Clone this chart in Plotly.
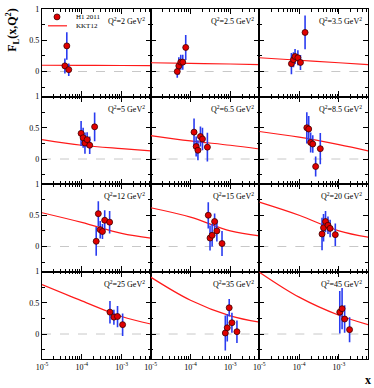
import plotly.graph_objects as go
from plotly.subplots import make_subplots

q2_values = [2, 2.5, 3.5, 5, 6.5, 8.5, 12, 15, 20, 25, 35, 45]

h1_x = [
    [3.76e-5, 4.2e-5, 4.7e-5],
    [4.66e-5, 5.1e-5, 5.7e-5, 6.4e-5, 7.6e-5],
    [6.4e-5, 7.2e-5, 7.9e-5, 9.3e-5, 1.08e-4, 1.41e-4],
    [9.6e-5, 1.08e-4, 1.2e-4, 1.36e-4, 1.58e-4, 2.1e-4],
    [1.23e-4, 1.39e-4, 1.54e-4, 1.78e-4, 2.0e-4, 2.66e-4],
    [1.56e-4, 1.74e-4, 1.95e-4, 2.2e-4, 2.6e-4, 3.4e-4],
    [2.3e-4, 2.6e-4, 2.9e-4, 3.3e-4, 3.76e-4, 5.0e-4],
    [2.8e-4, 3.1e-4, 3.5e-4, 4.04e-4, 4.6e-4, 6.2e-4],
    [3.76e-4, 4.1e-4, 4.6e-4, 5.3e-4, 6.0e-4, 8.1e-4],
    [5.1e-4, 6.4e-4, 7.9e-4, 1.06e-3],
    [7.5e-4, 8.4e-4, 9.4e-4, 1.1e-3, 1.47e-3],
    [1.05e-3, 1.2e-3, 1.39e-3, 1.85e-3],
]
h1_fl = [
    [0.09, 0.41, 0.03],
    [0.0, 0.09, 0.15, 0.15, 0.385],
    [0.125, 0.19, 0.24, 0.22, 0.145, 0.625],
    [0.41, 0.34, 0.255, 0.31, 0.22, 0.515],
    [0.43, 0.2, 0.14, 0.36, 0.32, 0.19],
    [0.5, 0.48, 0.265, 0.24, -0.12, 0.165],
    [0.083, 0.525, 0.27, 0.24, 0.42, 0.39],
    [0.5, 0.135, 0.18, 0.4, 0.25, 0.047],
    [0.2, 0.3, 0.4, 0.34, 0.29, 0.19],
    [0.35, 0.27, 0.28, 0.15],
    [0.016, 0.1, 0.42, 0.18, 0.037],
    [0.35, 0.405, 0.24, 0.07],
]
h1_err = [
    [0.12, 0.22, 0.1],
    [0.1, 0.14, 0.12, 0.12, 0.2],
    [0.17, 0.12, 0.12, 0.12, 0.12, 0.27],
    [0.2, 0.16, 0.17, 0.12, 0.14, 0.23],
    [0.22, 0.16, 0.16, 0.16, 0.18, 0.23],
    [0.25, 0.21, 0.16, 0.14, 0.16, 0.25],
    [0.23, 0.2, 0.14, 0.12, 0.16, 0.18],
    [0.21, 0.2, 0.18, 0.13, 0.17, 0.2],
    [0.26, 0.22, 0.17, 0.14, 0.14, 0.18],
    [0.18, 0.12, 0.17, 0.18],
    [0.28, 0.22, 0.14, 0.16, 0.18],
    [0.34, 0.33, 0.22, 0.2],
]

kkt_x = [1e-5, 1e-4, 1e-3, 5.4e-3]
kkt_fl = [
    [0.10, 0.098, 0.096, 0.095],
    [0.14, 0.13, 0.12, 0.11],
    [0.22, 0.18, 0.14, 0.11],
    [0.31, 0.22, 0.165, 0.13],
    [0.375, 0.29, 0.22, 0.16],
    [0.44, 0.35, 0.23, 0.13],
    [0.54, 0.385, 0.21, 0.135],
    [0.62, 0.47, 0.25, 0.17],
    [0.71, 0.50, 0.25, 0.15],
    [0.79, 0.53, 0.28, 0.16],
    [0.91, 0.54, 0.29, 0.19],
    [0.99, 0.59, 0.30, 0.15],
]

x_major = [1e-5, 1e-4, 1e-3]
x_major_text = ["10<sup>-5</sup>", "10<sup>-4</sup>", "10<sup>-3</sup>"]
x_minor = [m * d for d in [1e-5, 1e-4, 1e-3] for m in range(2, 10)]
y_major = [0, 0.5, 1]
y_major_text = ["0", "0.5", "1"]
y_minor = [-0.25, 0.25, 0.75]

SERIF = "Liberation Serif"
RED = "#ff1a1a"
BLUE = "#2a3cf0"

W, H = 374, 388
ML, MR, MT, MB = 42, 6, 5, 29
PW, PH = W - ML - MR, H - MT - MB


def px(x):
    return (x - ML) / PW


def py(y):
    return 1 - (y - MT) / PH


fig = make_subplots(rows=4, cols=3, horizontal_spacing=0, vertical_spacing=0)

for i, q2 in enumerate(q2_values):
    r, c = i // 3 + 1, i % 3 + 1
    fig.add_trace(go.Scatter(
        x=kkt_x, y=kkt_fl[i], mode="lines",
        line=dict(color=RED, width=1.2, shape="spline"),
        showlegend=False, hoverinfo="skip"), row=r, col=c)
    fig.add_trace(go.Scatter(
        x=h1_x[i], y=h1_fl[i], mode="markers",
        marker=dict(color="#e00000", size=6, line=dict(color="#400000", width=0.8)),
        error_y=dict(type="data", array=h1_err[i], color=BLUE, thickness=1.6, width=0),
        showlegend=False), row=r, col=c)
    n = "" if i == 0 else str(i + 1)
    fig.add_shape(type="line", xref=f"x{n} domain", yref=f"y{n}",
                  x0=0, x1=1, y0=0, y1=0,
                  line=dict(color="#c8c8c8", width=1, dash="dash"), layer="below")
    fig.add_annotation(xref=f"x{n} domain", yref=f"y{n} domain", x=0.965, y=0.86,
                       xanchor="right", yanchor="middle", showarrow=False,
                       text=f"Q<sup>2</sup>={q2} GeV<sup>2</sup>",
                       font=dict(family=SERIF, size=8, color="black"))

fig.update_xaxes(type="log", range=[-5, -2.27], tickvals=x_major, ticktext=x_major_text,
                 ticks="inside", ticklen=5, tickwidth=1, tickcolor="black",
                 minor=dict(tickvals=x_minor, ticks="inside", ticklen=2.5, tickcolor="black"),
                 showline=True, linecolor="black", linewidth=1.3, mirror="allticks",
                 showgrid=False, zeroline=False,
                 tickfont=dict(family=SERIF, size=8, color="black"),
                 showticklabels=False)
for c in (1, 2, 3):
    fig.update_xaxes(showticklabels=True, row=4, col=c)

fig.update_yaxes(range=[-0.4, 1.0], tickvals=y_major, ticktext=y_major_text,
                 ticks="inside", ticklen=5, tickwidth=1, tickcolor="black",
                 minor=dict(tickvals=y_minor, ticks="inside", ticklen=2.5, tickcolor="black"),
                 showline=True, linecolor="black", linewidth=1.3, mirror="allticks",
                 showgrid=False, zeroline=False,
                 tickfont=dict(family=SERIF, size=8, color="black"),
                 showticklabels=False)
for r in (1, 2, 3, 4):
    fig.update_yaxes(showticklabels=True, row=r, col=1)

# manual legend in the first panel (positions in pixels converted to paper units)
fig.add_shape(type="circle", xref="paper", yref="paper",
              x0=px(54), x1=px(60), y0=py(16), y1=py(10),
              fillcolor="#e00000", line=dict(color="#400000", width=0.8))
fig.add_shape(type="line", xref="paper", yref="paper",
              x0=px(48), x1=px(67), y0=py(22), y1=py(22),
              line=dict(color=RED, width=1.2))
fig.add_annotation(xref="paper", yref="paper", x=px(74), y=py(13),
                   xanchor="left", yanchor="middle", showarrow=False, text="H1 2011",
                   font=dict(family=SERIF, size=7, color="black"))
fig.add_annotation(xref="paper", yref="paper", x=px(74), y=py(22),
                   xanchor="left", yanchor="middle", showarrow=False, text="KKT12",
                   font=dict(family=SERIF, size=7, color="black"))

# axis titles
fig.add_annotation(xref="paper", yref="paper", x=px(13), y=py(27),
                   xanchor="center", yanchor="middle", showarrow=False, textangle=-90,
                   text="<b>F<sub>L</sub>(x,Q<sup>2</sup>)</b>",
                   font=dict(family=SERIF, size=12, color="black"))
fig.add_annotation(xref="paper", yref="paper", x=px(368), y=py(380),
                   xanchor="center", yanchor="middle", showarrow=False,
                   text="<b>x</b>", font=dict(family=SERIF, size=12, color="black"))

fig.update_layout(width=W, height=H, autosize=False,
                  margin=dict(l=ML, r=MR, t=MT, b=MB),
                  paper_bgcolor="white", plot_bgcolor="white", showlegend=False)

fig.write_html("out.html", config={"displayModeBar": False},
               post_script="document.body.style.margin='0';document.body.style.overflow='hidden';")
